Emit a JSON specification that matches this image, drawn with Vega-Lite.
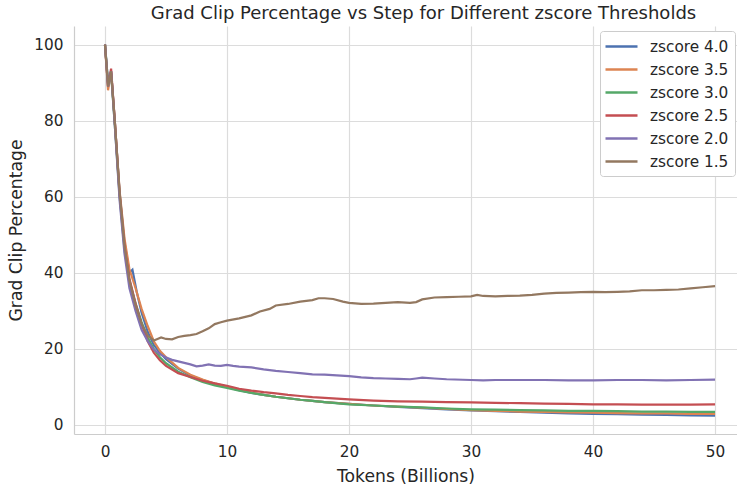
{
  "$schema": "https://vega.github.io/schema/vega-lite/v6.json",
  "width": 663,
  "height": 408,
  "autosize": {"type": "none"},
  "padding": {"left": 74, "top": 26, "right": 0, "bottom": 51},
  "background": "white",
  "title": {"text": "Grad Clip Percentage vs Step for Different zscore Thresholds", "font": "DejaVu Sans", "fontSize": 18, "fontWeight": "normal", "color": "#262626", "anchor": "middle", "dx": 18, "offset": 3},
  "config": {
    "view": {"stroke": null},
    "font": "DejaVu Sans"
  },
  "data": {"values": [
    {"s":"zscore 4.0","x":0,"y":100},{"s":"zscore 4.0","x":0.25,"y":90},{"s":"zscore 4.0","x":0.5,"y":93},{"s":"zscore 4.0","x":0.8,"y":80},{"s":"zscore 4.0","x":1.2,"y":61},{"s":"zscore 4.0","x":1.6,"y":48},{"s":"zscore 4.0","x":2.0,"y":40},{"s":"zscore 4.0","x":2.25,"y":40.8},{"s":"zscore 4.0","x":2.6,"y":35},{"s":"zscore 4.0","x":3,"y":29.5},{"s":"zscore 4.0","x":3.5,"y":24.5},{"s":"zscore 4.0","x":4,"y":21},{"s":"zscore 4.0","x":4.5,"y":19},{"s":"zscore 4.0","x":5,"y":17.3},{"s":"zscore 4.0","x":6,"y":14.8},{"s":"zscore 4.0","x":7,"y":13},{"s":"zscore 4.0","x":8,"y":11.8},{"s":"zscore 4.0","x":9,"y":10.8},{"s":"zscore 4.0","x":10,"y":9.9},{"s":"zscore 4.0","x":11,"y":9.1},{"s":"zscore 4.0","x":12,"y":8.4},{"s":"zscore 4.0","x":13,"y":7.9},{"s":"zscore 4.0","x":14,"y":7.4},{"s":"zscore 4.0","x":15,"y":7.0},{"s":"zscore 4.0","x":16,"y":6.6},{"s":"zscore 4.0","x":17,"y":6.3},{"s":"zscore 4.0","x":18,"y":6.0},{"s":"zscore 4.0","x":20,"y":5.5},{"s":"zscore 4.0","x":22,"y":5.1},{"s":"zscore 4.0","x":24,"y":4.7},{"s":"zscore 4.0","x":26,"y":4.4},{"s":"zscore 4.0","x":28,"y":4.1},{"s":"zscore 4.0","x":30,"y":3.8},{"s":"zscore 4.0","x":32,"y":3.6},{"s":"zscore 4.0","x":34,"y":3.4},{"s":"zscore 4.0","x":36,"y":3.2},{"s":"zscore 4.0","x":38,"y":3.0},{"s":"zscore 4.0","x":40,"y":2.9},{"s":"zscore 4.0","x":42,"y":2.8},{"s":"zscore 4.0","x":44,"y":2.7},{"s":"zscore 4.0","x":46,"y":2.6},{"s":"zscore 4.0","x":48,"y":2.5},{"s":"zscore 4.0","x":50,"y":2.4},

    {"s":"zscore 3.5","x":0,"y":100},{"s":"zscore 3.5","x":0.25,"y":88},{"s":"zscore 3.5","x":0.5,"y":93},{"s":"zscore 3.5","x":0.8,"y":80},{"s":"zscore 3.5","x":1.2,"y":61.5},{"s":"zscore 3.5","x":1.6,"y":49},{"s":"zscore 3.5","x":2.0,"y":41},{"s":"zscore 3.5","x":2.5,"y":36},{"s":"zscore 3.5","x":3,"y":30.5},{"s":"zscore 3.5","x":3.5,"y":26},{"s":"zscore 3.5","x":4,"y":22},{"s":"zscore 3.5","x":4.5,"y":19.5},{"s":"zscore 3.5","x":5,"y":17.8},{"s":"zscore 3.5","x":6,"y":15.0},{"s":"zscore 3.5","x":7,"y":13.2},{"s":"zscore 3.5","x":8,"y":11.9},{"s":"zscore 3.5","x":9,"y":10.9},{"s":"zscore 3.5","x":10,"y":10.0},{"s":"zscore 3.5","x":11,"y":9.2},{"s":"zscore 3.5","x":12,"y":8.5},{"s":"zscore 3.5","x":13,"y":7.9},{"s":"zscore 3.5","x":14,"y":7.4},{"s":"zscore 3.5","x":15,"y":7.0},{"s":"zscore 3.5","x":16,"y":6.6},{"s":"zscore 3.5","x":17,"y":6.3},{"s":"zscore 3.5","x":18,"y":6.0},{"s":"zscore 3.5","x":20,"y":5.5},{"s":"zscore 3.5","x":22,"y":5.1},{"s":"zscore 3.5","x":24,"y":4.8},{"s":"zscore 3.5","x":26,"y":4.5},{"s":"zscore 3.5","x":28,"y":4.2},{"s":"zscore 3.5","x":30,"y":3.9},{"s":"zscore 3.5","x":32,"y":3.7},{"s":"zscore 3.5","x":34,"y":3.5},{"s":"zscore 3.5","x":36,"y":3.4},{"s":"zscore 3.5","x":38,"y":3.3},{"s":"zscore 3.5","x":40,"y":3.2},{"s":"zscore 3.5","x":42,"y":3.1},{"s":"zscore 3.5","x":44,"y":3.0},{"s":"zscore 3.5","x":46,"y":3.0},{"s":"zscore 3.5","x":48,"y":2.9},{"s":"zscore 3.5","x":50,"y":2.9},

    {"s":"zscore 3.0","x":0,"y":100},{"s":"zscore 3.0","x":0.25,"y":90},{"s":"zscore 3.0","x":0.5,"y":92.5},{"s":"zscore 3.0","x":0.8,"y":79},{"s":"zscore 3.0","x":1.2,"y":60},{"s":"zscore 3.0","x":1.6,"y":46},{"s":"zscore 3.0","x":2.0,"y":38},{"s":"zscore 3.0","x":2.5,"y":32},{"s":"zscore 3.0","x":3,"y":27},{"s":"zscore 3.0","x":3.5,"y":23},{"s":"zscore 3.0","x":4,"y":20},{"s":"zscore 3.0","x":4.5,"y":17.8},{"s":"zscore 3.0","x":5,"y":16.2},{"s":"zscore 3.0","x":6,"y":14.0},{"s":"zscore 3.0","x":7,"y":12.5},{"s":"zscore 3.0","x":8,"y":11.3},{"s":"zscore 3.0","x":9,"y":10.4},{"s":"zscore 3.0","x":10,"y":9.7},{"s":"zscore 3.0","x":11,"y":9.0},{"s":"zscore 3.0","x":12,"y":8.4},{"s":"zscore 3.0","x":13,"y":7.9},{"s":"zscore 3.0","x":14,"y":7.4},{"s":"zscore 3.0","x":15,"y":7.0},{"s":"zscore 3.0","x":16,"y":6.6},{"s":"zscore 3.0","x":17,"y":6.3},{"s":"zscore 3.0","x":18,"y":6.0},{"s":"zscore 3.0","x":20,"y":5.4},{"s":"zscore 3.0","x":22,"y":5.1},{"s":"zscore 3.0","x":24,"y":4.8},{"s":"zscore 3.0","x":26,"y":4.6},{"s":"zscore 3.0","x":28,"y":4.3},{"s":"zscore 3.0","x":30,"y":4.1},{"s":"zscore 3.0","x":32,"y":4.0},{"s":"zscore 3.0","x":34,"y":3.9},{"s":"zscore 3.0","x":36,"y":3.8},{"s":"zscore 3.0","x":38,"y":3.7},{"s":"zscore 3.0","x":40,"y":3.7},{"s":"zscore 3.0","x":42,"y":3.6},{"s":"zscore 3.0","x":44,"y":3.5},{"s":"zscore 3.0","x":46,"y":3.5},{"s":"zscore 3.0","x":48,"y":3.4},{"s":"zscore 3.0","x":50,"y":3.4},

    {"s":"zscore 2.5","x":0,"y":100},{"s":"zscore 2.5","x":0.25,"y":89},{"s":"zscore 2.5","x":0.5,"y":93.7},{"s":"zscore 2.5","x":0.8,"y":80},{"s":"zscore 2.5","x":1.2,"y":60.5},{"s":"zscore 2.5","x":1.6,"y":47},{"s":"zscore 2.5","x":2.0,"y":38.5},{"s":"zscore 2.5","x":2.5,"y":32},{"s":"zscore 2.5","x":3,"y":26.5},{"s":"zscore 2.5","x":3.5,"y":22},{"s":"zscore 2.5","x":4,"y":19},{"s":"zscore 2.5","x":4.5,"y":17.0},{"s":"zscore 2.5","x":5,"y":15.5},{"s":"zscore 2.5","x":6,"y":13.6},{"s":"zscore 2.5","x":7,"y":12.6},{"s":"zscore 2.5","x":8,"y":11.6},{"s":"zscore 2.5","x":9,"y":10.9},{"s":"zscore 2.5","x":10,"y":10.3},{"s":"zscore 2.5","x":11,"y":9.5},{"s":"zscore 2.5","x":12,"y":9.0},{"s":"zscore 2.5","x":13,"y":8.6},{"s":"zscore 2.5","x":14,"y":8.3},{"s":"zscore 2.5","x":15,"y":7.9},{"s":"zscore 2.5","x":16,"y":7.6},{"s":"zscore 2.5","x":17,"y":7.3},{"s":"zscore 2.5","x":18,"y":7.1},{"s":"zscore 2.5","x":19,"y":6.9},{"s":"zscore 2.5","x":20,"y":6.7},{"s":"zscore 2.5","x":22,"y":6.4},{"s":"zscore 2.5","x":24,"y":6.2},{"s":"zscore 2.5","x":26,"y":6.1},{"s":"zscore 2.5","x":28,"y":6.0},{"s":"zscore 2.5","x":30,"y":5.9},{"s":"zscore 2.5","x":32,"y":5.8},{"s":"zscore 2.5","x":34,"y":5.7},{"s":"zscore 2.5","x":36,"y":5.6},{"s":"zscore 2.5","x":38,"y":5.5},{"s":"zscore 2.5","x":40,"y":5.4},{"s":"zscore 2.5","x":42,"y":5.4},{"s":"zscore 2.5","x":44,"y":5.3},{"s":"zscore 2.5","x":46,"y":5.3},{"s":"zscore 2.5","x":48,"y":5.3},{"s":"zscore 2.5","x":50,"y":5.4},

    {"s":"zscore 2.0","x":0,"y":100},{"s":"zscore 2.0","x":0.25,"y":89},{"s":"zscore 2.0","x":0.5,"y":93},{"s":"zscore 2.0","x":0.8,"y":79},{"s":"zscore 2.0","x":1.2,"y":59},{"s":"zscore 2.0","x":1.6,"y":45},{"s":"zscore 2.0","x":2.0,"y":36},{"s":"zscore 2.0","x":2.5,"y":30},{"s":"zscore 2.0","x":3,"y":25},{"s":"zscore 2.0","x":3.5,"y":22},{"s":"zscore 2.0","x":4,"y":19.8},{"s":"zscore 2.0","x":4.5,"y":18.6},{"s":"zscore 2.0","x":5,"y":17.7},{"s":"zscore 2.0","x":5.5,"y":17.1},{"s":"zscore 2.0","x":6,"y":16.7},{"s":"zscore 2.0","x":6.5,"y":16.3},{"s":"zscore 2.0","x":7,"y":15.9},{"s":"zscore 2.0","x":7.5,"y":15.4},{"s":"zscore 2.0","x":8,"y":15.6},{"s":"zscore 2.0","x":8.5,"y":15.9},{"s":"zscore 2.0","x":9,"y":15.6},{"s":"zscore 2.0","x":9.5,"y":15.5},{"s":"zscore 2.0","x":10,"y":15.8},{"s":"zscore 2.0","x":10.5,"y":15.5},{"s":"zscore 2.0","x":11,"y":15.3},{"s":"zscore 2.0","x":12,"y":15.1},{"s":"zscore 2.0","x":13,"y":14.6},{"s":"zscore 2.0","x":14,"y":14.2},{"s":"zscore 2.0","x":15,"y":13.9},{"s":"zscore 2.0","x":16,"y":13.6},{"s":"zscore 2.0","x":17,"y":13.3},{"s":"zscore 2.0","x":18,"y":13.2},{"s":"zscore 2.0","x":19,"y":13.0},{"s":"zscore 2.0","x":20,"y":12.8},{"s":"zscore 2.0","x":21,"y":12.5},{"s":"zscore 2.0","x":22,"y":12.3},{"s":"zscore 2.0","x":23,"y":12.2},{"s":"zscore 2.0","x":24,"y":12.1},{"s":"zscore 2.0","x":25,"y":12.0},{"s":"zscore 2.0","x":25.5,"y":12.2},{"s":"zscore 2.0","x":26,"y":12.4},{"s":"zscore 2.0","x":27,"y":12.2},{"s":"zscore 2.0","x":28,"y":12.0},{"s":"zscore 2.0","x":30,"y":11.8},{"s":"zscore 2.0","x":31,"y":11.7},{"s":"zscore 2.0","x":32,"y":11.8},{"s":"zscore 2.0","x":34,"y":11.8},{"s":"zscore 2.0","x":36,"y":11.8},{"s":"zscore 2.0","x":38,"y":11.7},{"s":"zscore 2.0","x":40,"y":11.7},{"s":"zscore 2.0","x":42,"y":11.8},{"s":"zscore 2.0","x":44,"y":11.8},{"s":"zscore 2.0","x":46,"y":11.7},{"s":"zscore 2.0","x":48,"y":11.8},{"s":"zscore 2.0","x":50,"y":11.9},

    {"s":"zscore 1.5","x":0,"y":100},{"s":"zscore 1.5","x":0.25,"y":89},{"s":"zscore 1.5","x":0.5,"y":93},{"s":"zscore 1.5","x":0.8,"y":80},{"s":"zscore 1.5","x":1.2,"y":61},{"s":"zscore 1.5","x":1.6,"y":47},{"s":"zscore 1.5","x":2.0,"y":38},{"s":"zscore 1.5","x":2.5,"y":31.5},{"s":"zscore 1.5","x":3,"y":26.5},{"s":"zscore 1.5","x":3.5,"y":23.5},{"s":"zscore 1.5","x":4,"y":22.2},{"s":"zscore 1.5","x":4.3,"y":22.6},{"s":"zscore 1.5","x":4.6,"y":23.0},{"s":"zscore 1.5","x":5,"y":22.6},{"s":"zscore 1.5","x":5.5,"y":22.5},{"s":"zscore 1.5","x":6,"y":23.1},{"s":"zscore 1.5","x":6.5,"y":23.4},{"s":"zscore 1.5","x":7,"y":23.6},{"s":"zscore 1.5","x":7.5,"y":23.9},{"s":"zscore 1.5","x":8,"y":24.6},{"s":"zscore 1.5","x":8.5,"y":25.4},{"s":"zscore 1.5","x":9,"y":26.5},{"s":"zscore 1.5","x":9.5,"y":27.0},{"s":"zscore 1.5","x":10,"y":27.4},{"s":"zscore 1.5","x":11,"y":28.0},{"s":"zscore 1.5","x":12,"y":28.8},{"s":"zscore 1.5","x":12.7,"y":29.8},{"s":"zscore 1.5","x":13.5,"y":30.5},{"s":"zscore 1.5","x":14,"y":31.4},{"s":"zscore 1.5","x":15,"y":31.8},{"s":"zscore 1.5","x":16,"y":32.4},{"s":"zscore 1.5","x":17,"y":32.8},{"s":"zscore 1.5","x":17.5,"y":33.3},{"s":"zscore 1.5","x":18,"y":33.3},{"s":"zscore 1.5","x":18.7,"y":33.1},{"s":"zscore 1.5","x":19.5,"y":32.4},{"s":"zscore 1.5","x":20,"y":32.1},{"s":"zscore 1.5","x":21,"y":31.8},{"s":"zscore 1.5","x":22,"y":31.9},{"s":"zscore 1.5","x":23,"y":32.1},{"s":"zscore 1.5","x":24,"y":32.3},{"s":"zscore 1.5","x":25,"y":32.1},{"s":"zscore 1.5","x":25.5,"y":32.3},{"s":"zscore 1.5","x":26,"y":33.0},{"s":"zscore 1.5","x":27,"y":33.5},{"s":"zscore 1.5","x":28,"y":33.6},{"s":"zscore 1.5","x":29,"y":33.7},{"s":"zscore 1.5","x":30,"y":33.8},{"s":"zscore 1.5","x":30.5,"y":34.2},{"s":"zscore 1.5","x":31,"y":33.9},{"s":"zscore 1.5","x":32,"y":33.8},{"s":"zscore 1.5","x":33,"y":33.9},{"s":"zscore 1.5","x":34,"y":34.0},{"s":"zscore 1.5","x":35,"y":34.2},{"s":"zscore 1.5","x":36,"y":34.5},{"s":"zscore 1.5","x":37,"y":34.7},{"s":"zscore 1.5","x":38,"y":34.8},{"s":"zscore 1.5","x":39,"y":34.9},{"s":"zscore 1.5","x":40,"y":35.0},{"s":"zscore 1.5","x":41,"y":34.9},{"s":"zscore 1.5","x":42,"y":35.0},{"s":"zscore 1.5","x":43,"y":35.1},{"s":"zscore 1.5","x":44,"y":35.4},{"s":"zscore 1.5","x":45,"y":35.4},{"s":"zscore 1.5","x":46,"y":35.5},{"s":"zscore 1.5","x":47,"y":35.6},{"s":"zscore 1.5","x":48,"y":35.9},{"s":"zscore 1.5","x":49,"y":36.2},{"s":"zscore 1.5","x":50,"y":36.5}
  ]},
  "mark": {"type": "line", "strokeWidth": 2.2, "clip": true},
  "encoding": {
    "x": {"field": "x", "type": "quantitative", "title": "Tokens (Billions)",
      "scale": {"domain": [-2.54, 51.8], "nice": false, "zero": false},
      "axis": {"values": [0, 10, 20, 30, 40, 50], "grid": true, "gridColor": "#dcdcdc", "gridWidth": 1.2, "domainColor": "#cccccc", "domainWidth": 1.2, "ticks": false, "labelPadding": 10, "labelFontSize": 15.3, "labelColor": "#262626", "labelFont": "DejaVu Sans", "titleFont": "DejaVu Sans", "titleFontSize": 17.2, "titleFontWeight": "normal", "titleColor": "#262626", "titlePadding": 8}},
    "y": {"field": "y", "type": "quantitative", "title": "Grad Clip Percentage",
      "scale": {"domain": [-2.4, 104.9], "nice": false, "zero": false},
      "axis": {"values": [0, 20, 40, 60, 80, 100], "grid": true, "gridColor": "#dcdcdc", "gridWidth": 1.2, "domainColor": "#cccccc", "domainWidth": 1.2, "ticks": false, "labelPadding": 11, "labelFontSize": 15.3, "labelColor": "#262626", "labelFont": "DejaVu Sans", "titleFont": "DejaVu Sans", "titleFontSize": 17.2, "titleFontWeight": "normal", "titleColor": "#262626", "titlePadding": 8}},
    "color": {"field": "s", "type": "nominal", "title": null,
      "scale": {"domain": ["zscore 4.0", "zscore 3.5", "zscore 3.0", "zscore 2.5", "zscore 2.0", "zscore 1.5"], "range": ["#4C72B0", "#DD8452", "#55A868", "#C44E52", "#8172B3", "#937860"]},
      "legend": {"orient": "none", "legendX": 526, "legendY": 5, "symbolType": "M-2,0H2", "symbolSize": 256, "symbolStrokeWidth": 2.5, "symbolFillColor": "transparent", "symbolOffset": 6, "labelFontSize": 15.3, "labelFont": "DejaVu Sans", "labelColor": "#262626", "rowPadding": 5, "padding": 6, "strokeColor": "#cccccc", "fillColor": "white", "cornerRadius": 3, "labelOffset": 19, "symbolOpacity": 1}},
    "order": {"field": "x", "type": "quantitative"}
  }
}
